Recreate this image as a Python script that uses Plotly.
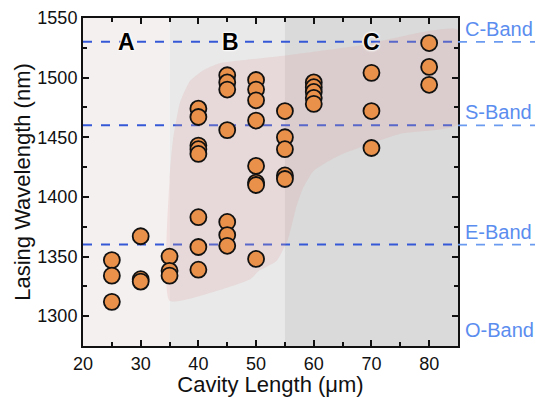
import plotly.graph_objects as go

# ---- data ----
cavity_x = [25, 25, 25,
            30, 30, 30,
            35, 35, 35,
            40, 40, 40, 40, 40, 40, 40, 40,
            45, 45, 45, 45, 45, 45, 45,
            50, 50, 50, 50, 50, 50, 50, 50,
            55, 55, 55, 55, 55,
            60, 60, 60, 60, 60,
            70, 70, 70,
            80, 80, 80]
wavelength = [1347, 1334, 1312,
              1367, 1331, 1329,
              1350, 1338, 1334,
              1474, 1467, 1443, 1440, 1436, 1383, 1358, 1339,
              1502, 1496, 1490, 1456, 1379, 1368, 1359,
              1498, 1490, 1481, 1464, 1426, 1412, 1410, 1348,
              1472, 1450, 1440, 1418, 1415,
              1496, 1492, 1488, 1483, 1478,
              1504, 1472, 1441,
              1529, 1509, 1494]

band_names = ["C-Band", "S-Band", "E-Band"]
band_edges = [1530, 1460, 1360]
o_band_label_y = 1288

region_labels = ["A", "B", "C"]
region_label_x = [27.5, 45.5, 70]
region_bounds = [(20, 35), (35, 55), (55, 85)]
region_colors = ["#f5f0f0", "#e9e9e9", "#dadada"]

# shaded trend band (outline)
band_upper_x = [35, 35, 35.6, 36.8, 38.5, 40.8, 43.7, 52.4, 68, 85]
band_upper_y = [1313, 1415, 1448, 1479, 1497, 1506, 1512, 1517, 1527, 1540]
band_lower_x = [85, 75, 64.5, 60, 58.2, 57, 55.5, 53.5, 50.5, 49, 43, 35]
band_lower_y = [1461, 1453, 1435, 1422, 1408, 1392, 1364, 1346, 1338, 1331, 1321, 1313]

X_RANGE = [20, 85]
Y_RANGE = [1275, 1550]

FONT = "Liberation Sans, Arial, sans-serif"

fig = go.Figure()

# trend band
fig.add_trace(go.Scatter(
    x=band_upper_x + band_lower_x,
    y=band_upper_y + band_lower_y,
    mode="lines", fill="toself",
    fillcolor="rgba(222,160,160,0.22)",
    line=dict(width=0, shape="spline", smoothing=0.5),
    hoverinfo="skip", showlegend=False,
))

# data points
fig.add_trace(go.Scatter(
    x=cavity_x, y=wavelength, mode="markers",
    marker=dict(size=16, color="#e9914b", line=dict(color="#111111", width=1.8)),
    showlegend=False,
))

shapes = []
for (x0, x1), c in zip(region_bounds, region_colors):
    shapes.append(dict(type="rect", xref="x", yref="y", x0=x0, x1=x1,
                       y0=Y_RANGE[0], y1=Y_RANGE[1], fillcolor=c,
                       line=dict(width=0), layer="below"))

annotations = []
xpx_right = 535
plot_l, plot_r = 83, 458
x_out = (xpx_right - plot_l) / (plot_r - plot_l)
for name, yv in zip(band_names, band_edges):
    shapes.append(dict(type="line", xref="x", yref="y", x0=X_RANGE[0], x1=X_RANGE[1],
                       y0=yv, y1=yv, line=dict(color="#3558d6", width=2, dash="dash"),
                       layer="below"))
    yp = (yv - Y_RANGE[0]) / (Y_RANGE[1] - Y_RANGE[0])
    shapes.append(dict(type="line", xref="paper", yref="paper", x0=1.0, x1=x_out,
                       y0=yp, y1=yp, line=dict(color="#6b9bf0", width=1.6, dash="dash")))
    annotations.append(dict(text=name, xref="paper", yref="y", x=1.012, y=yv,
                            xanchor="left", yanchor="bottom", showarrow=False,
                            font=dict(family=FONT, size=20, color="#5b8def")))
annotations.append(dict(text="O-Band", xref="paper", yref="y", x=1.012, y=o_band_label_y,
                        xanchor="left", yanchor="middle", showarrow=False,
                        font=dict(family=FONT, size=20, color="#5b8def")))

for lab, xv in zip(region_labels, region_label_x):
    annotations.append(dict(text=lab, xref="x", yref="y", x=xv, y=band_edges[0],
                            xanchor="center", yanchor="middle", showarrow=False,
                            font=dict(family=FONT, size=23, color="black", weight="bold",
                                      shadow="0 0 2px white, 0 0 2px white, 0 0 3px white, 0 0 3px white")))

axis_common = dict(
    showline=True, linecolor="#111111", linewidth=2, mirror="ticks",
    ticks="inside", ticklen=6, tickwidth=1.6, tickcolor="#111111",
    showgrid=False, zeroline=False, automargin=False,
    tickfont=dict(family=FONT, size=18, color="#111111"),
)

fig.update_layout(
    width=538, height=397,
    margin=dict(l=83, r=80, t=18, b=51),
    paper_bgcolor="white", plot_bgcolor="white",
    shapes=shapes, annotations=annotations,
    xaxis=dict(range=X_RANGE, dtick=10, tick0=20,
               minor=dict(dtick=5, ticks="inside", ticklen=4, tickwidth=1.6, tickcolor="#111111"),
               title=dict(text="Cavity Length (μm)", font=dict(family=FONT, size=22, color="#111111"),
                          standoff=6),
               **axis_common),
    yaxis=dict(range=Y_RANGE, dtick=50, tick0=1300,
               minor=dict(dtick=25, ticks="inside", ticklen=4, tickwidth=1.6, tickcolor="#111111"),
               title=dict(text="Lasing Wavelength (nm)", font=dict(family=FONT, size=22, color="#111111"),
                          standoff=1),
               **axis_common),
)

fig.write_html("out.html", config={"displayModeBar": False},
               post_script="document.body.style.margin='0';document.body.style.padding='0';")
